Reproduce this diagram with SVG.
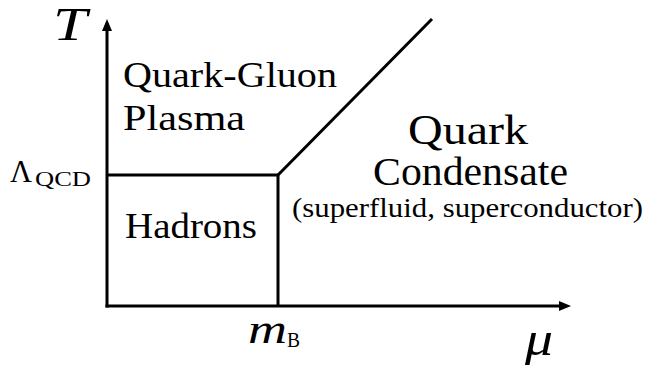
<svg xmlns="http://www.w3.org/2000/svg" width="647" height="368" viewBox="0 0 647 368">
<style>
.ln{stroke:#000;stroke-width:3;fill:none}
.ah{fill:#000;stroke:none}
</style>
<rect width="647" height="368" fill="#fff"/>
<g id="connectors">
<line class="ln" x1="107" y1="307.5" x2="107" y2="28"/>
<path class="ah" d="M107,19 L112,31 L102,31 Z"/>
<line class="ln" x1="105.5" y1="306" x2="561" y2="306"/>
<path class="ah" d="M571,306 L559,301 L559,311 Z"/>
<polyline class="ln" points="107,175 278,175 278,306"/>
<line class="ln" x1="278" y1="175" x2="432" y2="19"/>
</g>
<g font-family="Liberation Serif, DejaVu Serif, serif" fill="#000">
<g id="axis-T"><text font-style="italic" x="53" y="40" font-size="46" textLength="34" lengthAdjust="spacingAndGlyphs">T</text></g>
<g id="axis-mu"><text font-style="italic" x="525" y="355" font-size="48" textLength="28" lengthAdjust="spacingAndGlyphs">μ</text></g>
<g id="qgp">
<text x="123" y="87" font-size="35" textLength="214" lengthAdjust="spacingAndGlyphs">Quark-Gluon</text>
<text x="123" y="130" font-size="35" textLength="122" lengthAdjust="spacingAndGlyphs">Plasma</text>
</g>
<g id="lambda">
<text x="10" y="182" font-size="32" textLength="22" lengthAdjust="spacingAndGlyphs">Λ</text>
<text x="35" y="186" font-size="20" textLength="56" lengthAdjust="spacingAndGlyphs">QCD</text>
</g>
<g id="hadrons"><text x="125" y="238" font-size="36" textLength="132" lengthAdjust="spacingAndGlyphs">Hadrons</text></g>
<g id="condensate">
<text x="408" y="144" font-size="42" textLength="120" lengthAdjust="spacingAndGlyphs">Quark</text>
<text x="373" y="185" font-size="39" textLength="195" lengthAdjust="spacingAndGlyphs">Condensate</text>
<text x="292" y="217" font-size="27" textLength="351" lengthAdjust="spacingAndGlyphs">(superfluid, superconductor)</text>
</g>
<g id="mB">
<text font-style="italic" x="248" y="343" font-size="40" textLength="39" lengthAdjust="spacingAndGlyphs">m</text>
<text x="287" y="347" font-size="21" textLength="13" lengthAdjust="spacingAndGlyphs">B</text>
</g>
</g>
</svg>
